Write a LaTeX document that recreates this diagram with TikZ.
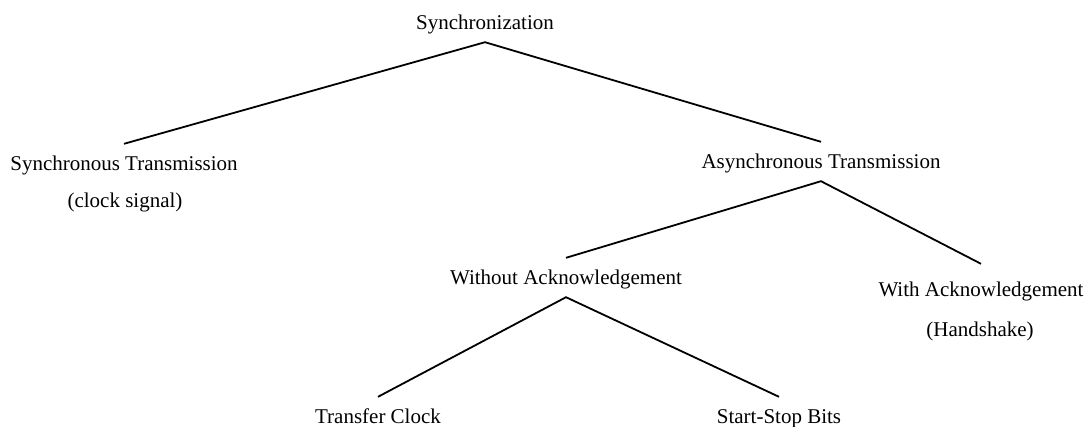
\documentclass[tikz,border=0pt]{standalone}
\usepackage{fontspec}
\setmainfont{Liberation Serif}
\begin{document}
\begin{tikzpicture}[x=1pt,y=-1pt,
  lbl/.style={inner sep=0pt, anchor=base, text height=26pt, text depth=13pt,
              font=\fontsize{21}{25}\selectfont},
  sub/.style={inner sep=0pt, anchor=base, font=\fontsize{21}{25}\selectfont},
  branch/.style={draw=black, line width=1.8pt}]
  \useasboundingbox (0,0) rectangle (1089,426);

  % tree labels
  \node[lbl] (root)  at (485,29)  {Synchronization};
  \node[lbl] (sync)  at (124,170) {Synchronous Transmission};
  \node[sub] (syncn) at (125,207) {(clock signal)};
  \node[lbl] (async) at (821,168) {Asynchronous Transmission};
  \node[lbl] (wo)    at (566,284) {Without Acknowledgement};
  \node[lbl, text height=32pt] (wi) at (981,296) {With Acknowledgement};
  \node[sub] (win)   at (980,336) {(Handshake)};
  \node[lbl] (tc)    at (378,423) {Transfer Clock};
  \node[lbl] (ss)    at (779,423) {Start-Stop Bits};

  % branches
  \draw[branch] (sync.north) -- (root.south) -- (async.north);
  \draw[branch] (wo.north) -- (async.south) -- (wi.north);
  \draw[branch] (tc.north) -- (wo.south) -- (ss.north);
\end{tikzpicture}
\end{document}
